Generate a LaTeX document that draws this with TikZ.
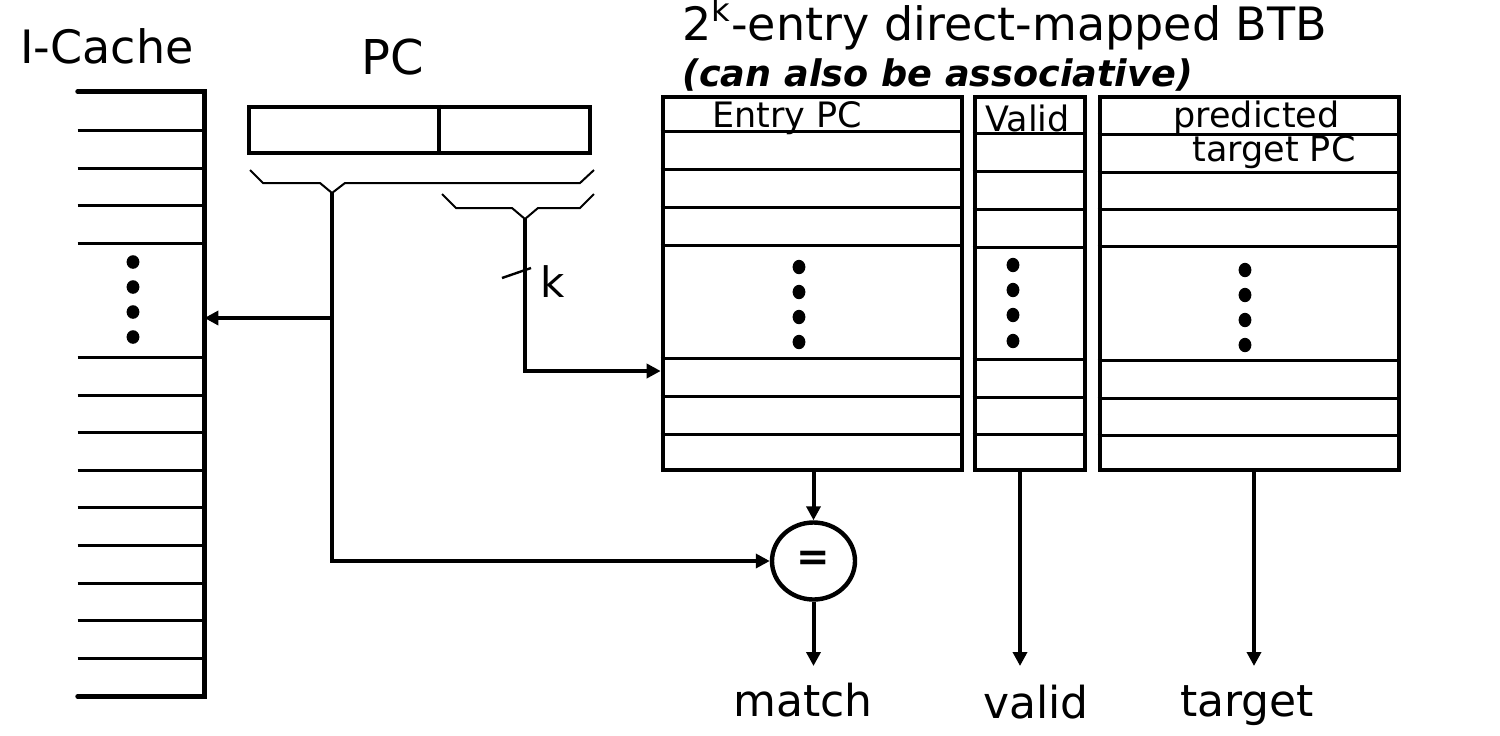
\documentclass[tikz,border=0pt]{standalone}
\usepackage{fontspec}
\setmainfont{DejaVu Sans}
\usetikzlibrary{arrows.meta,shapes.geometric}
\begin{document}
\begin{tikzpicture}[x=0.5pt,y=-0.5pt,
  frame/.style={draw,line width=2.3pt,inner sep=0pt},
  rowline/.style={line width=1.5pt},
  wire/.style={line width=2pt},
  conn/.style={wire,-{Triangle[length=7pt,width=7pt]}},
  brace/.style={line width=1pt},
  dotmark/.style={fill=black},
  lbl/.style={inner sep=0pt,anchor=base,font=\fontsize{22}{26}\selectfont},
  hdr/.style={inner sep=0pt,anchor=base west,font=\fontsize{17.5}{20}\selectfont},
]
\useasboundingbox (0,0) rectangle (1500,735);

% ---- titles ----
\node[inner sep=0pt,font=\fontsize{23}{26}\selectfont] (icname) at (107,46) {I-Cache};
\node[inner sep=0pt,font=\fontsize{24}{28}\selectfont] (pcname) at (393,57) {PC};
\node[inner sep=0pt,anchor=base west,font=\fontsize{23}{26}\selectfont] (title) at (682,40)
  {2\textsuperscript{k}-entry direct-mapped BTB};
\node[inner sep=0pt,anchor=base west,font=\fontsize{18.3}{22}\selectfont\bfseries\itshape] (note) at (682,86)
  {(can also be associative)};

% ---- instruction cache ----
\node[inner sep=0pt,minimum width=63pt,minimum height=302pt] (ic) at (141,394) {};
\draw[line width=2.3pt,line cap=round] (ic.north west) -- (ic.north east) -- (ic.south east) -- (ic.south west);
\foreach \y in {130,168,205,243,357,395,432,470,507,545,583,620,658}
  \draw[rowline] (ic.west |- 0,\y) -- (ic.east |- 0,\y);
\foreach \y in {262,287,312,337}
  \fill[dotmark] (133,\y) ellipse [x radius=3.2pt, y radius=3.4pt];

% ---- program counter ----
\node[frame,minimum width=170.5pt,minimum height=23pt] (pc) at (419.5,130) {};
\draw[line width=2.3pt] (pc.north -| 439,0) -- (pc.south -| 439,0);
\draw[brace] (250,170) -- (263,183) -- (320,183) -- (332,193) -- (345,183) -- (580,183) -- (594,170);
\coordinate (hi) at (332,193);
\draw[brace] (442,194) -- (456,208) -- (512,208) -- (525,219) -- (538,208) -- (580,208) -- (594,194);
\coordinate (lo) at (525,219);

% ---- BTB columns ----
\node[frame,minimum width=149.5pt,minimum height=186.5pt] (epc) at (812.5,283.5) {};
\node[frame,minimum width=55pt,minimum height=186.5pt] (vld) at (1030,283.5) {};
\node[frame,minimum width=149.5pt,minimum height=186.5pt] (tgt) at (1249.5,283.5) {};
\foreach \y in {131,169,207,245,358,396,434}
  \draw[rowline] (epc.west |- 0,\y) -- (epc.east |- 0,\y);
\foreach \y in {133,171,209,247,359,397,434}
  \draw[rowline] (vld.west |- 0,\y) -- (vld.east |- 0,\y);
\foreach \y in {134,172,209,246,360,398,435}
  \draw[rowline] (tgt.west |- 0,\y) -- (tgt.east |- 0,\y);
\foreach \y in {267,292,317,342}
  \fill[dotmark] (799,\y) ellipse [x radius=3.2pt, y radius=3.6pt];
\foreach \y in {265,290,315,341}
  \fill[dotmark] (1013,\y) ellipse [x radius=3.2pt, y radius=3.6pt];
\foreach \y in {270,295,320,345}
  \fill[dotmark] (1245,\y) ellipse [x radius=3.2pt, y radius=3.6pt];

\node[hdr] (hEntry) at (712,127) {Entry PC};
\node[hdr] (hValid) at (985,131) {Valid};
\node[hdr] (hPred) at (1173,127) {predicted};
\node[hdr] (hTarget) at (1192,161) {target PC};

% ---- comparator ----
\node[draw,ellipse,line width=2.2pt,minimum width=41.5pt,minimum height=38.5pt,inner sep=0pt,
      font=\fontsize{20}{24}\selectfont\bfseries] (cmp) at (813.5,561) {=};

% ---- wiring ----
\coordinate (fork) at (332,318);
\coordinate (sel) at (0,371);
\coordinate (outy) at (0,666);
\coordinate (vx) at (1020,0);
\coordinate (tx) at (1254,0);

\draw[wire] (hi) -- (fork);
\draw[conn] (fork) -- (ic.east |- fork);
\draw[conn] (fork) |- (cmp.west);
\draw[conn] (lo) |- (epc.west |- sel);
\draw[line width=1.2pt] (502,278) -- (531,268);
\node[inner sep=0pt,font=\fontsize{21}{24}\selectfont] (k) at (553,282) {k};

\draw[conn] (cmp.north |- epc.south) -- (cmp.north);

% ---- outputs ----
\node[lbl] (match) at (803,716) {match};
\node[lbl] (valid) at (1036,718) {valid};
\node[lbl] (target) at (1247,716) {target};
\draw[conn] (cmp.south) -- (cmp.south |- outy);
\draw[conn] (vld.south -| vx) -- (vx |- outy);
\draw[conn] (tgt.south -| tx) -- (tx |- outy);
\end{tikzpicture}
\end{document}
